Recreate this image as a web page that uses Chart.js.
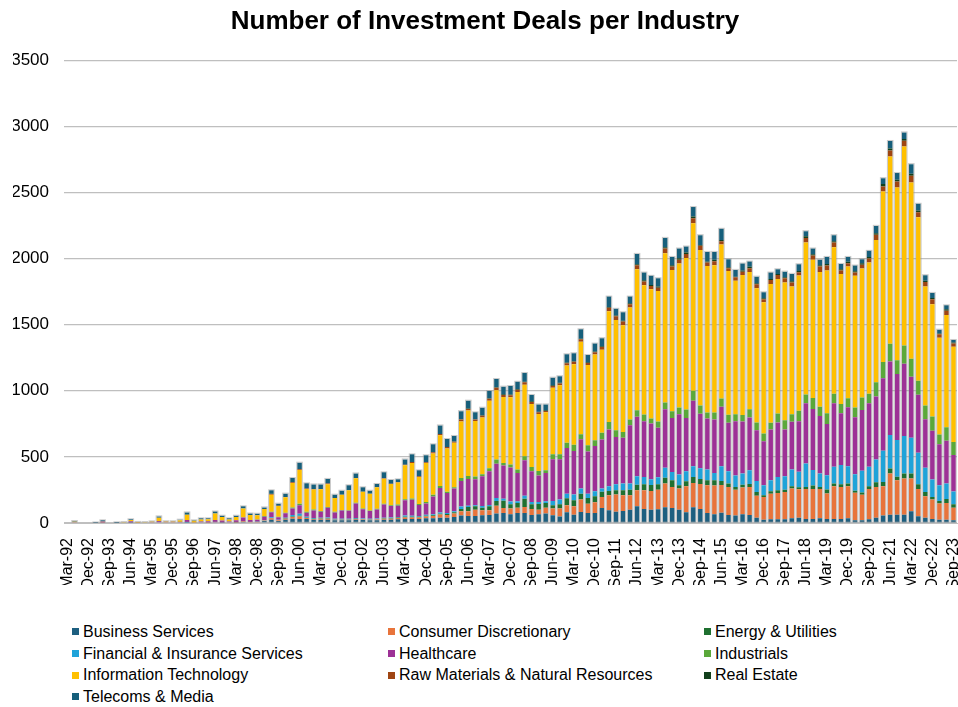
<!DOCTYPE html>
<html>
<head>
<meta charset="utf-8">
<script src="https://cdn.jsdelivr.net/npm/chart.js@4.4.1/dist/chart.umd.min.js"></script>
<style>
  body { margin: 0; background: #fff; font-family: "Liberation Sans", Arial, sans-serif; }
  #wrap { position: relative; width: 958px; height: 707px; }
  #legend { position: absolute; left: 72px; top: 621px; display: grid; grid-template-columns: 316px 316px 316px; grid-auto-rows: 21.7px; font-size: 16px; color: #000; }
  .item { display: flex; align-items: center; white-space: nowrap; }
  .box { width: 7px; height: 7px; margin-right: 4px; flex: none; }
</style>
</head>
<body>
<div id="wrap">
  <canvas id="dealsChart" width="958" height="610"></canvas>
  <div id="legend"></div>
</div>
<script>
// quarter labels, Mar-92 .. Sep-23
const quarters = [];
const months = ['Mar', 'Jun', 'Sep', 'Dec'];
for (let y = 1992; y <= 2023; y++) {
  for (const m of months) {
    if (y === 2023 && m === 'Dec') break;
    quarters.push(m + '-' + String(y).slice(2));
  }
}

const businessServices = [
  0,0,0,0,2,0,0,2,0,3, 0,0,0,5,0,0,0,3,0,0, 0,5,3,0,3,8,5,
  5,15,25,15,25,33,30,30,25,25, 25,20,20,20,25,22,20,20,25,25, 28,30,30,30,35,35,40,40,
  45,56,53,53,58,61,71,76,66,76, 76,61,66,71,58,50,81,63,83,76, 76,114,96,86,91,101,126,
  106,101,104,119,114,101,81,119,106,76, 66,78,61,56,66,61,40,25,28,28, 28,35,40,
  30,30,35,30,30,30,35,20,20,28, 40,56,63,63,63,89,51,40,30,25, 25,20
];
const consumerDiscretionary = [
  0,10,0,0,0,3,0,0,0,0, 3,0,8,0,9,9,0,0,3,0, 3,0,0,0,5,5,3,
  2,3,10,5,8,13,20,8,5,8, 8,5,5,5,5,5,5,7,8,8, 10,12,12,12,15,18,25,20,
  26,32,35,48,38,35,60,38,43,40, 45,45,35,45,51,59,53,63,94,70, 81,83,114,129,119,109,121,
  141,141,148,179,159,159,197,184,189,209, 217,210,212,196,202,212,167,172,194,199, 207,225,215,
  228,228,223,193,248,243,243,208,193,230, 233,222,311,261,273,247,207,162,147,122, 127,96
];
const energyUtilities = [
  0,0,0,0,0,0,0,0,0,0, 0,0,0,0,0,0,0,0,0,0, 0,0,0,0,0,0,0,
  0,1,3,1,2,3,5,2,2,2, 3,2,2,2,3,2,2,2,2,3, 3,5,5,5,5,5,5,8,
  10,18,33,25,20,30,36,55,32,35, 63,35,43,35,25,32,53,46,45,43, 45,40,32,32,37,42,43,
  46,46,41,45,50,25,38,45,38,38, 40,30,25,21,22,22,28,13,18,20, 17,18,16,
  15,25,15,30,21,20,21,15,17,20, 36,33,38,25,38,38,35,33,20,20, 30,26
];
const financialInsurance = [
  0,0,0,0,0,0,0,0,0,0, 0,0,0,0,0,0,0,5,0,0, 0,0,0,0,0,0,0,
  2,3,5,3,5,12,15,8,5,5, 5,5,5,5,5,5,5,5,5,5, 5,10,8,6,8,8,10,8,
  7,18,10,8,13,10,22,15,21,13, 23,18,15,13,33,36,35,43,38,33, 38,23,36,46,51,46,64,
  55,43,53,74,63,81,75,81,81,81, 55,111,93,86,84,104,83,75,83,101, 102,126,116,
  177,117,101,109,126,145,131,126,165,147, 172,235,253,278,284,271,238,182,132,119, 117,96
];
const healthcare = [
  0,0,0,0,0,8,0,0,0,10, 0,0,0,10,0,0,8,15,0,12, 10,17,15,12,12,28,15,
  15,25,38,20,33,48,65,30,58,45, 75,48,62,60,110,70,58,68,100,88, 85,115,120,83,85,135,185,150,
  172,194,202,197,225,255,260,250,257,215, 268,232,200,215,315,305,346,330,374,318, 343,371,429,358,346,442,449,
  422,421,374,444,409,457,404,495,412,386, 405,450,367,411,394,399,384,334,384,412, 353,361,383,
  456,463,436,387,481,392,445,431,460,481, 475,549,557,499,546,461,438,367,369,309, 323,276
];
const industrials = [
  0,3,0,0,0,4,0,0,0,0, 0,0,0,0,0,0,0,0,0,0, 0,0,0,0,0,3,0,
  2,5,5,3,5,8,10,8,8,5, 5,5,5,5,5,5,5,5,5,5, 8,8,10,7,10,12,15,10,
  10,23,23,20,15,23,31,20,23,25, 30,33,35,20,38,38,38,46,38,48, 43,51,56,51,45,43,50,
  50,38,48,50,51,51,63,76,63,46, 53,63,60,53,48,63,58,58,51,68, 71,58,79,
  66,83,70,81,71,70,69,73,94,71, 109,122,134,104,139,136,106,104,107,75, 102,98
];
const informationTechnology = [
  0,0,0,0,0,0,0,0,7,10, 5,7,4,25,4,4,12,40,14,15, 15,50,28,15,25,65,37,
  32,53,128,82,116,186,256,171,151,165, 172,105,115,151,185,128,126,163,190,160, 168,256,269,205,295,312,383,328,
  336,426,494,421,429,511,524,499,509,586, 541,476,430,438,503,522,585,610,699,607, 648,629,839,833,806,847,1066,
  978,978,987,1129,1068,1088,1147,1267,1176,1108, 1113,1165,1088,1010,1060,1038,1015,992,1050,1018, 1040,965,1022,
  1149,1044,1019,1079,1109,984,995,996,975,993, 1076,1290,1416,1308,1505,1334,1238,900,849,731, 849,721
];
const rawMaterials = [
  0,0,0,0,0,0,0,0,0,0, 0,0,0,0,0,0,0,0,0,0, 0,0,0,0,0,0,0,
  0,0,5,2,3,5,5,3,3,3, 5,0,0,0,3,0,0,0,3,3, 3,5,7,5,7,10,10,10,
  8,15,12,10,13,15,18,15,15,18, 18,15,13,10,13,13,18,18,18,15, 18,20,25,28,28,25,30,
  28,25,25,36,25,28,30,38,31,26, 31,23,21,25,25,28,30,23,30,30, 33,30,25,
  35,33,40,38,35,25,25,25,30,30, 38,38,46,45,43,50,38,35,38,26, 33,25
];
const realEstate = [
  0,0,0,0,0,0,0,0,0,0, 0,0,0,0,0,0,0,0,0,0, 0,0,0,0,0,0,0,
  0,0,2,0,0,0,2,0,0,0, 0,0,0,0,0,0,0,0,0,0, 0,0,0,0,0,0,0,0,
  2,3,3,3,3,3,5,5,5,5, 5,5,5,5,5,5,5,5,5,5, 5,5,6,6,6,6,7,
  10,7,8,10,10,12,10,13,7,7, 10,10,7,5,8,10,8,7,8,8, 7,10,10,
  13,10,10,12,10,10,11,10,10,12, 13,18,15,13,13,15,12,10,10,7, 10,8
];
const telecomsMedia = [
  0,2,0,0,2,5,0,3,0,5, 0,0,0,10,0,0,5,17,3,8, 7,15,9,8,10,17,12,
  12,13,26,15,25,32,48,40,35,34, 35,24,30,37,34,33,23,25,45,28, 20,40,58,45,52,60,65,61,
  42,61,60,52,58,55,62,58,65,55, 65,48,55,45,58,50,62,60,71,55, 60,62,79,51,65,51,79,
  58,69,63,70,63,74,46,71,74,73, 60,85,61,51,53,40,50,46,48,35, 43,56,51,
  38,43,41,53,46,40,37,43,31,46, 55,45,56,50,50,73,51,41,38,28, 30,18
];

const series = [
  { label: 'Business Services', data: businessServices, color: '#1d5f80' },
  { label: 'Consumer Discretionary', data: consumerDiscretionary, color: '#e8743b' },
  { label: 'Energy & Utilities', data: energyUtilities, color: '#1f7030' },
  { label: 'Financial & Insurance Services', data: financialInsurance, color: '#1fa3d9' },
  { label: 'Healthcare', data: healthcare, color: '#9d3196' },
  { label: 'Industrials', data: industrials, color: '#5aa83a' },
  { label: 'Information Technology', data: informationTechnology, color: '#ffc000' },
  { label: 'Raw Materials & Natural Resources', data: rawMaterials, color: '#9f4512' },
  { label: 'Real Estate', data: realEstate, color: '#12401c' },
  { label: 'Telecoms & Media', data: telecomsMedia, color: '#165f7b' }
];

// thin grey outline round each stacked column
const barOutline = {
  id: 'barOutline',
  afterDatasetsDraw(chart) {
    const ctx = chart.ctx;
    const metas = chart.getSortedVisibleDatasetMetas();
    ctx.save();
    ctx.strokeStyle = 'rgba(150,150,150,0.5)';
    ctx.lineWidth = 1;
    for (let i = 0; i < quarters.length; i++) {
      const els = metas.map(m => m.data[i]).filter(el => el && Math.abs(el.base - el.y) > 0.1);
      if (!els.length) continue;
      const top = Math.min(...els.map(e => e.y));
      const bottom = Math.max(...els.map(e => e.base));
      const e0 = els[0];
      ctx.strokeRect(e0.x - e0.width / 2 - 0.5, top - 0.5, e0.width + 1, bottom - top);
    }
    ctx.restore();
  }
};

const font = '"Liberation Sans", Arial, sans-serif';

const chart = new Chart(document.getElementById('dealsChart'), {
  type: 'bar',
  data: {
    labels: quarters,
    datasets: series.map(s => ({
      label: s.label,
      data: s.data,
      backgroundColor: s.color,
      borderWidth: 0,
      barPercentage: 0.65,
      categoryPercentage: 1.0
    }))
  },
  options: {
    responsive: false,
    animation: false,
    devicePixelRatio: 1,
    layout: { padding: { left: 13, right: 1, top: 0, bottom: 25 } },
    plugins: {
      legend: { display: false },
      tooltip: { enabled: false },
      title: {
        display: true,
        text: 'Number of Investment Deals per Industry',
        color: '#000',
        font: { family: font, size: 26, weight: 'bold' },
        padding: { top: 6, bottom: 23 }
      }
    },
    scales: {
      x: {
        stacked: true,
        grid: { display: false },
        border: { display: true, color: '#bfbfbf', width: 1 },
        ticks: {
          autoSkip: false,
          maxRotation: 90,
          minRotation: 90,
          padding: 7,
          color: '#000',
          font: { family: font, size: 16 },
          callback: (v, i) => (i % 3 === 0 ? quarters[i] : '')
        },
        afterFit: s => { s.paddingRight = 0; s.paddingLeft = 0; s.height = 62; }
      },
      y: {
        stacked: true,
        min: 0,
        max: 3500,
        border: { display: false },
        grid: { color: '#bfbfbf', lineWidth: 1.3, drawTicks: false },
        ticks: {
          stepSize: 500,
          padding: 15,
          color: '#000',
          font: { family: font, size: 17 },
          callback: v => String(v)
        },
        afterFit: s => { s.width = 51; }
      }
    }
  },
  plugins: [barOutline]
});

// three-column legend built from the datasets
const legend = document.getElementById('legend');
chart.data.datasets.forEach(ds => {
  const item = document.createElement('div');
  item.className = 'item';
  const box = document.createElement('span');
  box.className = 'box';
  box.style.background = ds.backgroundColor;
  item.appendChild(box);
  item.appendChild(document.createTextNode(ds.label));
  legend.appendChild(item);
});
</script>
</body>
</html>
